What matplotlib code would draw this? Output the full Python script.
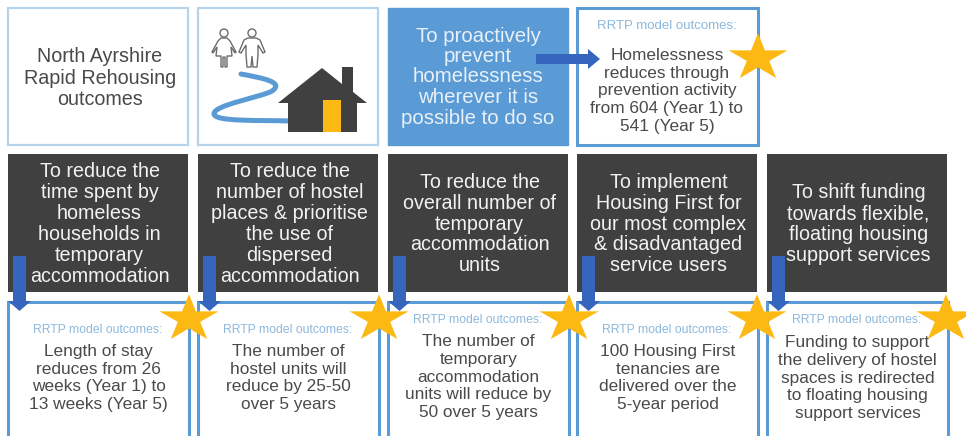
#!/usr/bin/env python3
import matplotlib
matplotlib.use('Agg')
import matplotlib.pyplot as plt
from matplotlib.patches import Rectangle, Polygon, Circle, PathPatch, FancyArrow
from matplotlib.path import Path
import numpy as np

title_text = 'North Ayrshire\nRapid Rehousing\noutcomes'
prevent_text = 'To proactively\nprevent\nhomelessness\nwherever it is\npossible to do so'
prevent_outcome = 'Homelessness\nreduces through\nprevention activity\nfrom 604 (Year 1) to\n541 (Year 5)'
outcome_label = 'RRTP model outcomes:'
aims = ['To reduce the\ntime spent by\nhomeless\nhouseholds in\ntemporary\naccommodation',
        'To reduce the\nnumber of hostel\nplaces & prioritise\nthe use of\ndispersed\naccommodation',
        'To reduce the\noverall number of\ntemporary\naccommodation\nunits',
        'To implement\nHousing First for\nour most complex\n& disadvantaged\nservice users',
        'To shift funding\ntowards flexible,\nfloating housing\nsupport services']
outcomes = ['Length of stay\nreduces from 26\nweeks (Year 1) to\n13 weeks (Year 5)',
            'The number of\nhostel units will\nreduce by 25-50\nover 5 years',
            'The number of\ntemporary\naccommodation\nunits will reduce by\n50 over 5 years',
            '100 Housing First\ntenancies are\ndelivered over the\n5-year period',
            'Funding to support\nthe delivery of hostel\nspaces is redirected\nto floating housing\nsupport services']

BLUE = '#5b9bd5'
DARK = '#404040'
GREY = '#4a4a4a'
GOLD = '#fdb913'
ARROW = '#3565bd'
LIGHT = '#b5d3ea'
FONT = 'Liberation Sans'

col_x = [8, 198, 388, 577, 767]
col_w = 181
# text anchors that differ from column to column
outcome_y = [378, 378, 377, 378, 378]
label_y = [330, 330, 320, 330, 320]
star_x = [189, 379, 569, 757, 946]

fig = plt.figure(figsize=(9.66, 4.36), dpi=100)
ax = fig.add_axes([0, 0, 1, 1])
ax.set_xlim(0, 966)
ax.set_ylim(436, 0)
ax.axis('off')


def star(cx, cy, r, zorder=6):
    ang = np.deg2rad(-90 + 36 * np.arange(10))
    rad = np.where(np.arange(10) % 2 == 0, r, r * 0.38)
    ax.add_patch(Polygon(np.c_[cx + rad * np.cos(ang), cy + 0.8 * rad * np.sin(ang)],
                         fc=GOLD, ec='none', zorder=zorder))


def person(cx, cy, skirt):
    ax.add_patch(Circle((cx, cy), 4, fc='white', ec='#6d6d6d', lw=1, zorder=3))
    if skirt:
        xs = [-3, 3, 6, 12, 11, 7, 8, 3, 3, 1, 1, -1, -1, -3, -3, -8, -7, -11, -12, -6]
        ys = [5, 5, 8, 19, 20, 14, 23, 23, 34, 34, 24, 24, 34, 34, 23, 23, 14, 20, 19, 8]
    else:
        xs = [-4, 4, 8, 13, 11, 6, 6, 5, 1, 0, -1, -5, -6, -6, -11, -13, -8]
        ys = [5, 5, 7, 19, 20, 12, 21, 34, 34, 23, 34, 34, 21, 12, 20, 19, 7]
    ax.add_patch(Polygon(np.c_[cx + np.array(xs), cy + np.array(ys)], fc='white',
                         ec='#6d6d6d', lw=1, zorder=3))


# top row
for x in col_x[:2]:
    ax.add_patch(Rectangle((x, 8), col_w - 1, 137, fc='white', ec=LIGHT, lw=1.6))
ax.add_patch(Rectangle((col_x[2], 8), col_w - 1, 137, fc=BLUE, ec=BLUE, lw=1))
ax.add_patch(Rectangle((col_x[3], 8), col_w, 137, fc='white', ec=BLUE, lw=2.2))

ax.text(100, 78, title_text, ha='center', va='center', fontsize=14.2, color=GREY,
        family=FONT, linespacing=1.15)
ax.text(478, 77, prevent_text, ha='center', va='center', fontsize=14.7, color='#e8f0f8',
        family=FONT, linespacing=1.1)
ax.text(667, 26, outcome_label, ha='center', va='center', fontsize=9.5, color='#8db8dc',
        family=FONT)
ax.text(667, 91, prevent_outcome, ha='center', va='center', fontsize=12.4, color=GREY,
        family=FONT, linespacing=1.24)

# pictogram
person(224, 33, True)
person(252, 33, False)
road = Path([(241, 74), (262, 78), (285, 82), (272, 91),
             (262, 97), (213, 105), (214, 114),
             (215, 122), (260, 120), (290, 121)],
            [Path.MOVETO] + [Path.CURVE4] * 9)
ax.add_patch(PathPatch(road, fc='none', ec=BLUE, lw=3.6, capstyle='round', zorder=3))
ax.add_patch(Polygon([(278, 103), (322, 68), (342, 84), (342, 67), (353, 67), (353, 92),
                      (367, 103), (357, 103), (357, 132), (288, 132), (288, 103)],
                     fc=DARK, ec='none', zorder=4))
ax.add_patch(Rectangle((323, 100), 18, 32, fc=GOLD, ec='none', zorder=5))

ax.add_patch(FancyArrow(536, 59, 64, 0, width=10, head_width=20, head_length=12,
                        length_includes_head=True, fc=ARROW, ec='none', zorder=5))
star(758, 58, 31)

# dark aims and outcome boxes
for i, x in enumerate(col_x):
    ax.add_patch(Rectangle((x, 154), col_w - 1, 138, fc=DARK, ec='none'))
    ax.text(x + col_w / 2 + 1, 224, aims[i], ha='center', va='center', fontsize=14.2,
            color='#f2f2f2', family=FONT, linespacing=1.13)
    ax.add_patch(Rectangle((x, 302), col_w, 140, fc='white', ec=BLUE, lw=2.2, clip_on=True))
    ax.text(x + col_w / 2 - 1, label_y[i], outcome_label, ha='center', va='center', fontsize=8.8,
            color='#8db8dc', family=FONT)
    ax.text(x + col_w / 2, outcome_y[i], outcomes[i], ha='center', va='center', fontsize=12.4,
            color=GREY, family=FONT, linespacing=1.24)
    ax.add_patch(FancyArrow(x + 11.5, 256, 0, 55, width=13, head_width=23, head_length=10,
                            length_includes_head=True, fc=ARROW, ec='none', zorder=5))
    star(star_x[i], 319, 31)

fig.savefig('out.png', dpi=100)
